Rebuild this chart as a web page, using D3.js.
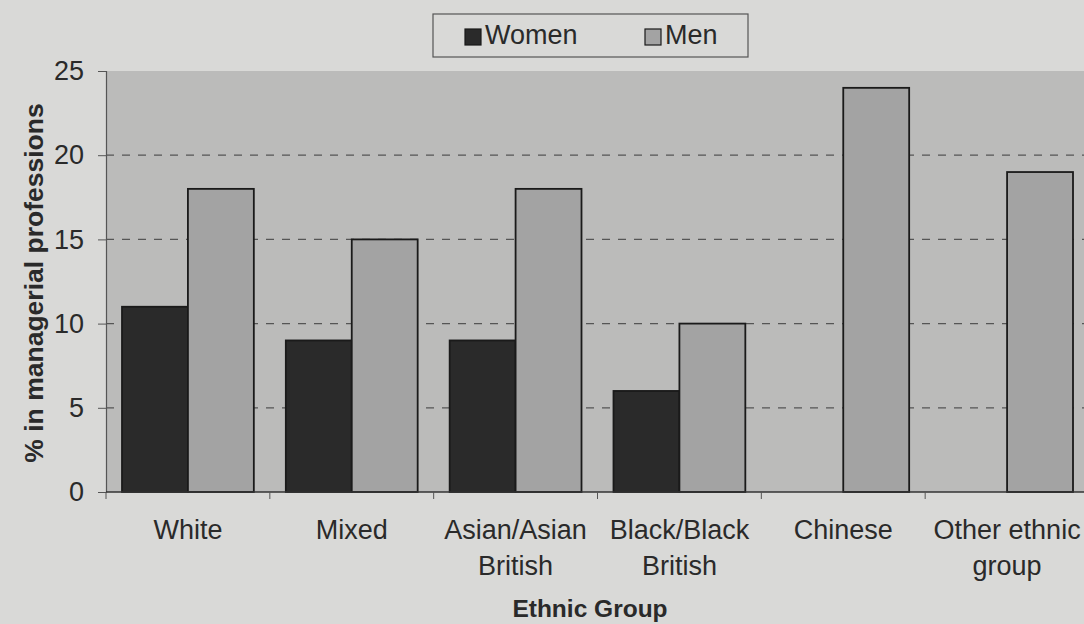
<!DOCTYPE html>
<html>
<head>
<meta charset="utf-8">
<script src="https://cdn.jsdelivr.net/npm/d3@7"></script>
<style>
  html, body { margin: 0; padding: 0; background: #d9d9d7; }
  svg { display: block; font-family: "Liberation Sans", Arial, sans-serif; }
</style>
</head>
<body>
<svg id="chart" width="1084" height="624"></svg>
<script>
// Share of each ethnic group working in managerial professions, by sex
const categories = [["White"], ["Mixed"], ["Asian/Asian", "British"], ["Black/Black", "British"], ["Chinese"], ["Other ethnic", "group"]];
const women = [11, 9, 9, 6, null, null];
const men = [18, 15, 18, 10, 24, 19];
const seriesNames = ["Women", "Men"];
const yTicks = [0, 5, 10, 15, 20, 25];

const colors = { Women: "#2a2a2a", Men: "#a3a3a3" };
const textColor = "#2a2a2a";

const svg = d3.select("#chart");
const margin = { left: 106, top: 71, right: -5, bottom: 132 };
const W = 1084, H = 624;
const plotW = W - margin.left - margin.right;
const plotH = H - margin.top - margin.bottom;

const keys = categories.map((c, i) => i);
const x = d3.scaleBand().domain(keys).range([0, plotW]).paddingInner(0).paddingOuter(0);
const xs = d3.scaleBand().domain(seriesNames).range([16, x.bandwidth() - 16]);
const y = d3.scaleLinear().domain([0, 25]).range([plotH, 0]);

const g = svg.append("g").attr("transform", `translate(${margin.left},${margin.top})`);

// plot area
g.append("rect").attr("x", 0).attr("y", 0).attr("width", plotW).attr("height", plotH)
  .attr("fill", "#bbbbba");

// dashed gridlines
g.selectAll("line.grid").data(yTicks.filter(t => t > 0 && t < 25)).join("line")
  .attr("class", "grid")
  .attr("x1", 0).attr("x2", plotW)
  .attr("y1", d => y(d)).attr("y2", d => y(d))
  .attr("stroke", "#555").attr("stroke-width", 1.2).attr("stroke-dasharray", "8,8");

// bars
const rows = keys.map(i => ({ i, Women: women[i], Men: men[i] }));
const grp = g.selectAll("g.cat").data(rows).join("g")
  .attr("transform", d => `translate(${x(d.i)},0)`);
grp.selectAll("rect").data(d => seriesNames.map(s => ({ s, v: d[s] })).filter(e => e.v != null))
  .join("rect")
  .attr("x", d => xs(d.s))
  .attr("width", xs.bandwidth())
  .attr("y", d => y(d.v))
  .attr("height", d => y(0) - y(d.v))
  .attr("fill", d => colors[d.s])
  .attr("stroke", "#1a1a1a").attr("stroke-width", 1.8);

// y axis
const yAxis = d3.axisLeft(y).tickValues(yTicks).tickSize(8).tickPadding(6);
const ya = g.append("g").call(yAxis);
ya.select(".domain").attr("stroke", "#555").attr("stroke-width", 1.2);
ya.selectAll(".tick line").attr("stroke", "#555");
ya.selectAll("text").attr("font-size", 27).attr("fill", textColor).attr("dx", -8);

// x axis
const xa = g.append("g").attr("transform", `translate(0,${plotH})`);
xa.append("line").attr("x1", 0).attr("x2", plotW).attr("stroke", "#333").attr("stroke-width", 1.5);
xa.selectAll("line.tk").data(keys.concat([keys.length])).join("line")
  .attr("class", "tk")
  .attr("x1", d => d < keys.length ? x(d) : plotW)
  .attr("x2", d => d < keys.length ? x(d) : plotW)
  .attr("y1", 0).attr("y2", 7).attr("stroke", "#555");
const lbl = xa.selectAll("text.cl").data(keys).join("text")
  .attr("class", "cl")
  .attr("text-anchor", "middle")
  .attr("font-size", 27).attr("fill", textColor)
  .attr("transform", d => `translate(${x(d) + x.bandwidth() / 2},47)`);
lbl.selectAll("tspan").data(d => categories[d]).join("tspan")
  .attr("x", 0).attr("dy", (d, i) => i === 0 ? 0 : 36).text(d => d);

// axis titles
svg.append("text")
  .attr("transform", `translate(43,283) rotate(-90)`)
  .attr("text-anchor", "middle").attr("font-size", 26.5).attr("font-weight", "bold").attr("fill", textColor)
  .text("% in managerial professions");
svg.append("text")
  .attr("x", 590).attr("y", 617)
  .attr("text-anchor", "middle").attr("font-size", 24.5).attr("font-weight", "bold").attr("fill", textColor)
  .text("Ethnic Group");

// legend
const lg = svg.append("g").attr("transform", "translate(433,14)");
lg.append("rect").attr("width", 315).attr("height", 43)
  .attr("fill", "#d9d9d7").attr("stroke", "#555").attr("stroke-width", 1.2);
const li = lg.selectAll("g.li").data(seriesNames).join("g")
  .attr("transform", (d, i) => `translate(${i === 0 ? 32 : 212},0)`);
li.append("rect").attr("x", 0).attr("y", 15).attr("width", 16).attr("height", 16)
  .attr("fill", d => colors[d]).attr("stroke", "#1a1a1a").attr("stroke-width", 1.2);
li.append("text").attr("x", 20).attr("y", 30).attr("font-size", 27).attr("fill", textColor).text(d => d);
</script>
</body>
</html>
